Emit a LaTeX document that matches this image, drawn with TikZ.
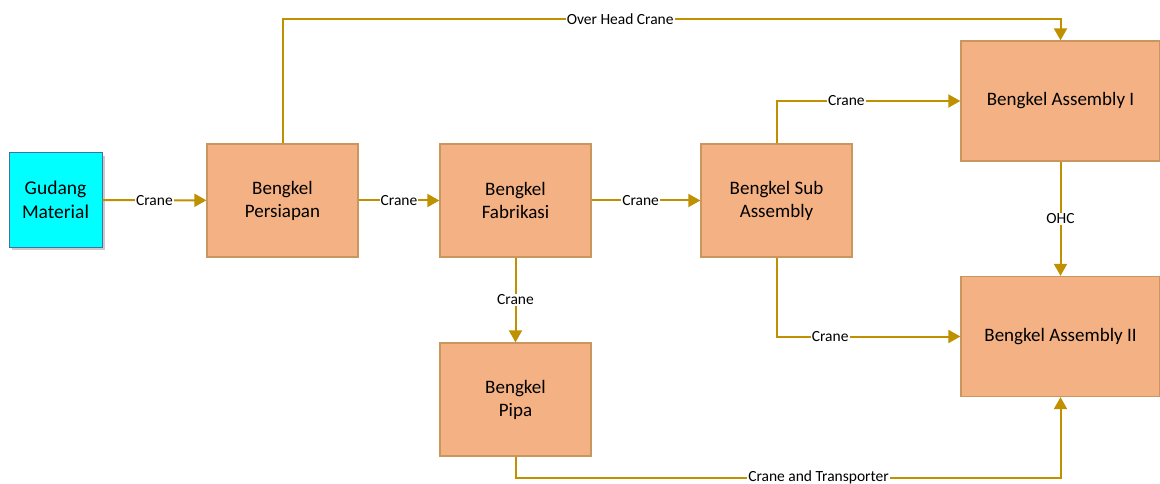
\documentclass[tikz,border=0pt]{standalone}
\usepackage{fontspec}
\setmainfont{Carlito}
\usetikzlibrary{arrows.meta,shadows}
\definecolor{boxfill}{HTML}{F4B183}
\definecolor{boxline}{HTML}{C9965E}
\definecolor{connc}{HTML}{BF9000}
\definecolor{gudfill}{HTML}{00FFFF}
\definecolor{gudline}{HTML}{41719C}
\begin{document}
\begin{tikzpicture}[x=1pt,y=-1pt,
  box/.style={draw=boxline, line width=1.3pt, fill=boxfill, minimum width=151pt, minimum height=113pt, align=center, font=\fontsize{19}{23}\selectfont, inner sep=0pt},
  bigbox/.style={box, minimum width=199pt, minimum height=120pt},
  gud/.style={draw=gudline, line width=1pt, fill=gudfill, minimum width=93pt, minimum height=94pt, align=center, font=\fontsize{19.5}{24}\selectfont, inner sep=0pt, drop shadow={shadow xshift=3pt, shadow yshift=-3pt, fill=black!35, opacity=0.6}},
  link/.style={draw=connc, line width=2pt, -{Triangle[width=13pt,length=12pt]}},
  lbl/.style={fill=white, inner sep=1pt, font=\fontsize{15.5}{18}\selectfont, text=black}
]
\useasboundingbox (0,0) rectangle (1160,484);
\node[gud] (gm) at (55.5,200) {Gudang\\Material};
\node[box] (per) at (282.5,200.5) {Bengkel\\Persiapan};
\node[box] (fab) at (515.5,200.5) {Bengkel\\Fabrikasi};
\node[box] (sub) at (776.5,200.5) {Bengkel Sub\\Assembly};
\node[box] (pipa) at (515.5,399.5) {Bengkel\\Pipa};
\node[bigbox] (as1) at (1060.5,101) {Bengkel Assembly I};
\node[bigbox] (as2) at (1060.5,336.5) {Bengkel Assembly II};

\draw[link] (gm) -- node[lbl]{Crane} (per);
\draw[link] (per) -- node[lbl]{Crane} (fab);
\draw[link] (fab) -- node[lbl,pos=0.45]{Crane} (sub);
\draw[link] (fab) -- node[lbl]{Crane} (pipa);
\draw[link] (as1) -- node[lbl]{OHC} (as2);
\draw[link] (per.north) -- ++(0,-124) coordinate (c1) -- node[lbl,pos=0.434]{Over Head Crane} (c1 -| as1.north) -- (as1.north);
\draw[link] (sub.north) |- node[lbl,pos=0.69]{Crane} (as1.west);
\draw[link] (sub.south) |- node[lbl,pos=0.646]{Crane} (as2.west);
\draw[link] (pipa.south) -- ++(0,21) coordinate (c2) -- node[lbl,pos=0.556]{Crane and Transporter} (c2 -| as2.south) -- (as2.south);
\end{tikzpicture}
\end{document}
